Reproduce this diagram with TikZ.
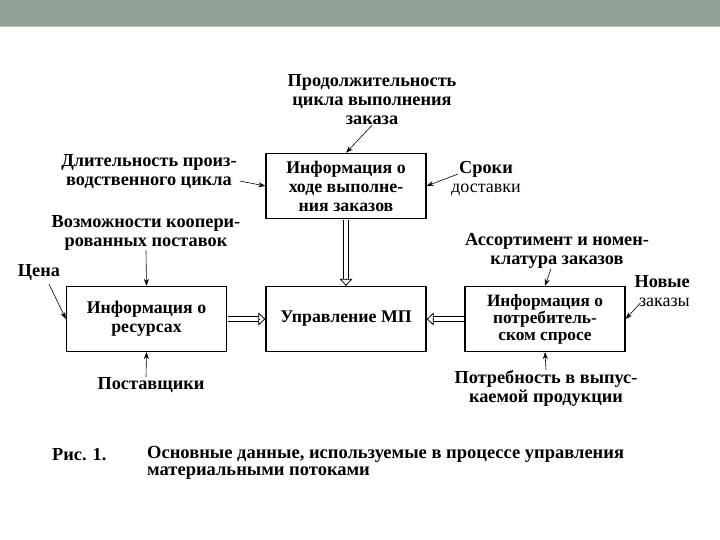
\documentclass[tikz,border=0pt]{standalone}
\usepackage{fontspec}
\setmainfont{Liberation Serif}
\usetikzlibrary{arrows.meta,positioning}
\definecolor{bandgray}{RGB}{148,161,150}
\newcommand{\lblfont}{\fontsize{18.3}{19}\selectfont\bfseries}
\newcommand{\subfont}{\fontsize{18}{19}\selectfont\mdseries}

\begin{document}
\begin{tikzpicture}[x=1pt,y=-1pt,
infobox/.style={draw, line width=1.3pt, minimum width=160pt, minimum height=65pt, align=center, inner sep=0pt, font=\fontsize{17.8}{19}\selectfont\bfseries},
lbl/.style={align=center, inner sep=0pt, font=\lblfont},
feed/.style={-{Stealth[length=7pt,width=5pt]}, line width=0.6pt},
flow/.style={draw=black, line width=6pt, postaction={draw=white, line width=4pt}},
flowtip/.style={-{Triangle[open,length=7pt,width=13pt]}, line width=0.8pt}]

%%%%%%%%%%%%%%%%%%%%%%%%%%%%%%%%%%%%%%%%%%%%%%%%%%%%%%%%%%%%
% PAGE AND BAND
%%%%%%%%%%%%%%%%%%%%%%%%%%%%%%%%%%%%%%%%%%%%%%%%%%%%%%%%%%%%

\useasboundingbox (0,0) rectangle (720,540);
\fill[white] (0,0) rectangle (720,540);
\fill[bandgray] (0,0) rectangle (720,27);
\draw[bandgray!70, line width=1pt] (0,26.5) -- (720,26.5);

%%%%%%%%%%%%%%%%%%%%%%%%%%%%%%%%%%%%%%%%%%%%%%%%%%%%%%%%%%%%
% Boxes
%%%%%%%%%%%%%%%%%%%%%%%%%%%%%%%%%%%%%%%%%%%%%%%%%%%%%%%%%%%%

\node[infobox](info) at (346,186)
{Информация о\\ходе выполне-\\ния заказов};

\node[infobox](mgmt) at (346,319)
{Управление МП};

\node[infobox](res) at (146.5,319)
{Информация о\\ресурсах};

\node[infobox, font=\fontsize{17.3}{17}\selectfont\bfseries](dem) at (545,319)
{Информация о\\потребитель-\\ском спросе};

%%%%%%%%%%%%%%%%%%%%%%%%%%%%%%%%%%%%%%%%%%%%%%%%%%%%%%%%%%%%
% Labels
%%%%%%%%%%%%%%%%%%%%%%%%%%%%%%%%%%%%%%%%%%%%%%%%%%%%%%%%%%%%

\node[lbl](dur) at (372,100)
{Продолжительность\\цикла выполнения\\заказа};

\node[lbl](cyc) at (149,172)
{Длительность произ-\\водственного цикла};

\node[lbl](del) at (486,179)
{Сроки\\{\subfont доставки}};

\node[lbl](coop) at (146,233)
{Возможности коопери-\\рованных поставок};

\node[lbl](asr) at (557,251)
{Ассортимент и номен-\\клатура заказов};

\node[lbl](price) at (39,272)
{Цена};

\node[lbl, align=right, anchor=east](new) at (690,291)
{Новые\\{\subfont заказы}};

\node[lbl](sup) at (151,385)
{Поставщики};

\node[lbl](need) at (546,388)
{Потребность в выпус-\\каемой продукции};

%%%%%%%%%%%%%%%%%%%%%%%%%%%%%%%%%%%%%%%%%%%%%%%%%%%%%%%%%%%%
% Connectors
%%%%%%%%%%%%%%%%%%%%%%%%%%%%%%%%%%%%%%%%%%%%%%%%%%%%%%%%%%%%

\path[flow] ([yshift=-0.7pt]info.south) -- ([yshift=7pt]mgmt.north);
\draw[flowtip] ([yshift=7pt]mgmt.north) -- (mgmt.north);
\path[flow] ([xshift=0.7pt]res.east) -- ([xshift=-6pt]mgmt.west);
\draw[flowtip] ([xshift=-6pt]mgmt.west) -- (mgmt.west);
\path[flow] ([xshift=-0.7pt]dem.west) -- ([xshift=6pt]mgmt.east);
\draw[flowtip] ([xshift=6pt]mgmt.east) -- (mgmt.east);

\draw[feed] (dur.south) -- (info.north);
\draw[feed] ([shift={(3,9)}]cyc.east) -- (info.west);
\draw[feed] ([shift={(7,-5)}]del.west) -- (info.east);
\draw[feed] (coop.south) -- (res.north);
\draw[feed] ([shift={(10,4)}]price.south) -- (res.west);
\draw[feed] ([xshift=-5pt]sup.north) -- (res.south);
\draw[feed] ([xshift=-6pt]asr.south) -- (dem.north);
\draw[feed] ([shift={(6,12)}]new.west) -- (dem.east);
\draw[feed] (need.north) -- (dem.south);

%%%%%%%%%%%%%%%%%%%%%%%%%%%%%%%%%%%%%%%%%%%%%%%%%%%%%%%%%%%%
% Caption
%%%%%%%%%%%%%%%%%%%%%%%%%%%%%%%%%%%%%%%%%%%%%%%%%%%%%%%%%%%%

\node[lbl, anchor=west](fig) at (52,455)
{Рис. 1.};

\node[lbl, align=left, anchor=north west, font=\fontsize{18.5}{17}\selectfont\bfseries](cap) at (147,446)
{Основные данные, используемые в процессе управления\\материальными потоками};

\end{tikzpicture}
\end{document}
